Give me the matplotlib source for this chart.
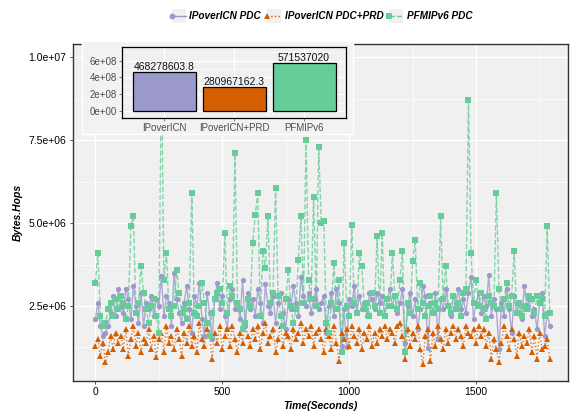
import numpy as np
import matplotlib
matplotlib.use("Agg")
import matplotlib.pyplot as plt
from matplotlib.lines import Line2D
from matplotlib.patches import Rectangle
from matplotlib.ticker import MultipleLocator

plt.rcParams["font.family"] = ["Liberation Sans", "DejaVu Sans"]

# ── Data (Bytes.Hops in millions, one sample every 10 s) ──
time_s = np.arange(0, 1800, 10)

ipo_pdc = [
    2.1, 2.6, 1.9, 1.6, 1.7, 1.9, 2.3, 2.8, 2.2, 3.0,
    2.5, 2.3, 3.0, 2.7, 2.1, 3.1, 2.5, 2.0, 2.9, 1.9,
    2.6, 2.4, 2.8, 2.2, 2.7, 2.5, 3.4, 2.2, 2.8, 2.6,
    1.9, 3.5, 2.7, 2.3, 2.0, 2.6, 3.1, 2.4, 1.7, 2.8,
    2.5, 3.2, 2.1, 1.6, 2.9, 2.3, 1.5, 2.7, 3.2, 2.4,
    2.8, 2.2, 1.8, 2.7, 3.0, 2.4, 2.6, 2.1, 3.3, 1.9,
    2.9, 2.4, 2.7, 2.2, 3.0, 2.6, 2.0, 3.16, 2.5, 2.3,
    2.8, 2.0, 2.6, 2.9, 2.3, 1.8, 2.7, 2.4, 3.1, 2.6,
    2.2, 3.37, 2.8, 2.5, 2.9, 2.3, 2.7, 3.0, 2.4, 2.6,
    2.8, 1.7, 2.5, 2.9, 2.2, 3.0, 2.6, 1.3, 2.4, 1.26,
    2.7, 2.5, 3.1, 2.3, 2.8, 2.4, 2.6, 2.2, 2.9, 2.7,
    2.4, 2.9, 2.6, 2.8, 2.2, 2.7, 3.0, 2.5, 2.8, 2.3,
    2.6, 3.0, 1.4, 2.5, 2.9, 2.2, 2.7, 1.8, 2.4, 3.1,
    2.8, 1.23, 2.6, 2.3, 2.9, 1.5, 2.7, 2.4, 3.0, 2.5,
    2.2, 2.8, 2.6, 3.0, 2.4, 2.7, 2.3, 2.9, 3.37, 2.1,
    2.6, 2.9, 2.3, 2.8, 2.5, 3.43, 2.2, 2.7, 2.4, 1.2,
    2.6, 2.2, 3.0, 2.4, 1.7, 2.8, 2.3, 2.6, 2.1, 3.1,
    2.5, 2.7, 2.2, 2.4, 1.8, 2.6, 2.9, 1.6, 2.3, 1.9,
]

ipo_pdc_prd = [
    1.3, 1.5, 1.0, 1.4, 0.8, 1.1, 1.6, 1.2, 1.7, 1.4,
    1.6, 1.2, 1.8, 1.0, 1.5, 1.9, 1.3, 1.7, 1.1, 1.5,
    1.4, 1.8, 1.2, 1.6, 0.95, 1.5, 1.7, 1.1, 1.9, 1.4,
    1.6, 1.2, 1.8, 1.5, 1.0, 1.7, 1.4, 1.9, 1.3, 1.6,
    1.1, 2.0, 1.5, 1.3, 1.8, 1.6, 0.9, 1.7, 1.4, 1.9,
    1.2, 1.6, 1.8, 1.3, 1.9, 1.5, 1.1, 1.7, 1.4, 2.0,
    1.6, 1.3, 1.8, 1.5, 1.9, 1.2, 1.7, 2.0, 1.4, 1.6,
    1.8, 1.1, 1.5, 1.9, 1.3, 1.7, 1.6, 1.2, 1.8, 1.5,
    1.7, 2.0, 1.4, 1.8, 1.6, 1.9, 1.3, 1.7, 1.8, 1.5,
    1.1, 1.8, 1.6, 1.2, 1.9, 1.4, 0.85, 1.7, 1.5, 1.8,
    1.3, 1.9, 1.6, 1.4, 1.8, 1.2, 1.7, 1.5, 1.9, 1.3,
    1.7, 1.4, 1.8, 1.6, 1.9, 1.5, 1.8, 1.7, 1.4, 1.9,
    2.0, 1.6, 0.9, 1.8, 1.3, 1.7, 1.5, 1.9, 1.2, 0.75,
    1.6, 1.8, 0.85, 1.7, 1.3, 1.9, 1.5, 1.2, 1.8, 1.4,
    1.7, 1.9, 1.5, 1.8, 1.6, 1.3, 1.9, 1.7, 1.6, 1.8,
    1.4, 1.9, 1.6, 1.8, 1.3, 1.7, 0.9, 1.5, 1.2, 0.8,
    1.4, 1.9, 1.6, 1.2, 1.8, 1.5, 1.0, 1.7, 1.3, 1.6,
    1.4, 1.8, 1.1, 1.6, 0.9, 1.7, 1.2, 1.3, 1.5, 0.9,
]

pfmipv6_pdc = [
    3.2, 4.1, 2.2, 1.9, 2.0, 2.4, 2.6, 2.2, 2.7, 2.4,
    2.8, 2.6, 2.1, 2.5, 4.9, 5.2, 2.3, 2.6, 3.7, 2.9,
    2.4, 2.0, 2.5, 2.7, 2.2, 1.7, 10.0, 3.3, 4.1, 2.4,
    2.2, 2.5, 3.6, 2.9, 2.3, 2.4, 2.1, 2.6, 5.9, 2.3,
    2.2, 2.5, 3.2, 2.6, 2.0, 1.6, 2.3, 2.7, 2.9, 3.0,
    2.6, 4.7, 2.3, 3.1, 2.8, 7.1, 2.6, 2.4, 1.8, 2.0,
    2.7, 2.5, 4.4, 5.25, 5.9, 2.2, 4.15, 3.65, 5.2, 2.6,
    2.9, 6.05, 2.8, 2.2, 1.9, 2.7, 3.6, 2.5, 2.0, 2.4,
    3.9, 5.2, 2.6, 7.5, 3.3, 2.7, 5.8, 2.5, 7.3, 5.0,
    5.05, 2.0, 1.7, 2.6, 3.8, 2.4, 3.3, 1.1, 4.4, 2.5,
    2.2, 4.95, 2.6, 2.3, 4.1, 3.7, 2.4, 2.6, 2.2, 2.9,
    2.5, 4.6, 2.3, 4.7, 2.2, 2.7, 2.5, 4.1, 2.8, 2.4,
    3.3, 4.15, 1.1, 2.6, 2.3, 3.85, 4.5, 2.4, 3.2, 2.6,
    2.2, 2.5, 2.8, 2.3, 2.6, 2.4, 5.2, 2.7, 3.7, 2.5,
    2.3, 2.8, 2.4, 2.6, 2.2, 2.9, 3.0, 8.7, 4.1, 2.6,
    3.3, 2.5, 2.9, 2.4, 2.1, 2.8, 2.6, 2.5, 5.9, 3.0,
    2.4, 2.7, 3.2, 2.5, 2.8, 4.15, 2.3, 2.6, 2.2, 2.5,
    2.4, 2.8, 2.7, 2.3, 2.8, 2.6, 2.7, 2.2, 4.9, 2.3,
]

series_names = ["IPoverICN PDC", "IPoverICN PDC+PRD", "PFMIPv6 PDC"]
bar_names = ["IPoverICN", "IPoverICN+PRD", "PFMIPv6"]
bar_totals = [468278603.8, 280967162.3, 571537020]
bar_labels = ["468278603.8", "280967162.3", "571537020"]

PURPLE = "#9C99CC"
ORANGE = "#D55E00"
GREEN = "#66CC99"
PANEL = "#F0F0F0"

W, H = 571, 411


def box(x0, y0, x1, y1):
    """pixel box (top-left origin) -> figure fraction [l, b, w, h]"""
    return [x0 / W, 1 - y1 / H, (x1 - x0) / W, (y1 - y0) / H]


fig = plt.figure(figsize=(W / 100, H / 100), dpi=100)
fig.patch.set_facecolor("white")

# ── Main time series ──
ax = fig.add_axes(box(72.5, 44, 568, 381))
ax.set_facecolor(PANEL)
styles = [
    (ipo_pdc, PURPLE, "-", "o", 3.8),
    (ipo_pdc_prd, ORANGE, ":", "^", 4.3),
    (pfmipv6_pdc, GREEN, "--", "s", 3.8),
]
for vals, col, ls, mk, ms in styles:
    y = np.array(vals) * 1e6
    ax.plot(time_s, y, linestyle=ls, color=col, linewidth=1.0, alpha=0.8, zorder=3)
    ax.plot(time_s, y, linestyle="none", marker=mk, color=col, markersize=ms,
            markeredgewidth=0, zorder=4)

ax.set_xlim(-90, 1862)
ax.set_ylim(0.24e6, 10.4e6)
ax.set_xticks([0, 500, 1000, 1500])
ax.xaxis.set_minor_locator(MultipleLocator(250))
yt = [2.5e6, 5.0e6, 7.5e6, 1.0e7]
ax.set_yticks(yt)
ax.set_yticklabels([f"{v:.1e}" for v in yt])
ax.yaxis.set_minor_locator(MultipleLocator(1.25e6))
ax.grid(which="major", color="white", linewidth=1.0, zorder=0)
ax.grid(which="minor", color="white", linewidth=0.5, zorder=0)
ax.set_axisbelow(True)
ax.tick_params(which="major", length=2.5, width=0.6, colors="#333333", labelsize=7.5,
               labelcolor="black", pad=2)
ax.tick_params(which="minor", length=0)
for s in ax.spines.values():
    s.set_color("#333333")
    s.set_linewidth(1.0)
ax.set_xlabel("Time(Seconds)", fontsize=7.5, fontweight="bold", fontstyle="italic", labelpad=3)
ax.set_ylabel("Bytes.Hops", fontsize=7.5, fontweight="bold", fontstyle="italic", labelpad=4)

# ── Inset bar chart ──
fig.add_artist(Rectangle((82 / W, 1 - 134 / H), (353 - 82) / W, (134 - 41) / H,
                         transform=fig.transFigure, facecolor="#F2F2F2",
                         edgecolor="white", linewidth=1.0, zorder=5))
ax2 = fig.add_axes(box(122, 47, 346, 118), zorder=6)
ax2.set_facecolor(PANEL)
ax2.bar([1, 2, 3], bar_totals, width=0.9, color=[PURPLE, ORANGE, GREEN],
        edgecolor="black", linewidth=0.9, zorder=3)
for i, (v, lab) in enumerate(zip(bar_totals, bar_labels)):
    ax2.text(i + 1, v, lab, ha="center", va="bottom", fontsize=7.5, color="#111111", zorder=4)
ax2.set_xlim(0.4, 3.6)
ax2.set_ylim(-0.84e8, 7.63e8)
ax2.set_xticks([1, 2, 3])
ax2.set_xticklabels(bar_names)
it = [0, 2e8, 4e8, 6e8]
ax2.set_yticks(it)
ax2.set_yticklabels([f"{v:.0e}" for v in it])
ax2.yaxis.set_minor_locator(MultipleLocator(1e8))
ax2.grid(which="major", color="white", linewidth=0.9, zorder=0)
ax2.grid(which="minor", axis="y", color="white", linewidth=0.45, zorder=0)
ax2.set_axisbelow(True)
ax2.tick_params(which="major", length=2, width=0.5, colors="#4D4D4D", labelsize=7, pad=1.5)
ax2.tick_params(which="minor", length=0)
for s in ax2.spines.values():
    s.set_color("black")
    s.set_linewidth(0.9)

# ── Legend (top, ggplot style keys) ──
leg_keys = [(172, 189), (267, 285), (389, 407)]
for (kx, tx), (vals, col, ls, mk, ms), name in zip(leg_keys, styles, series_names):
    fig.add_artist(Rectangle((kx / W, 1 - 23 / H), 14 / W, 14 / H,
                             transform=fig.transFigure, facecolor=PANEL,
                             edgecolor="none"))
    fig.add_artist(Line2D([kx / W, (kx + 14) / W], [1 - 16 / H] * 2,
                          transform=fig.transFigure, color=col, linestyle=ls,
                          linewidth=1.0, marker=mk, markersize=ms + 0.5,
                          markevery=[0], markeredgewidth=0))
    fig.text(tx / W, 1 - 16 / H, name, fontsize=7.2, fontweight="bold",
             fontstyle="italic", va="center", ha="left")

fig.savefig("out.png", dpi=100)
